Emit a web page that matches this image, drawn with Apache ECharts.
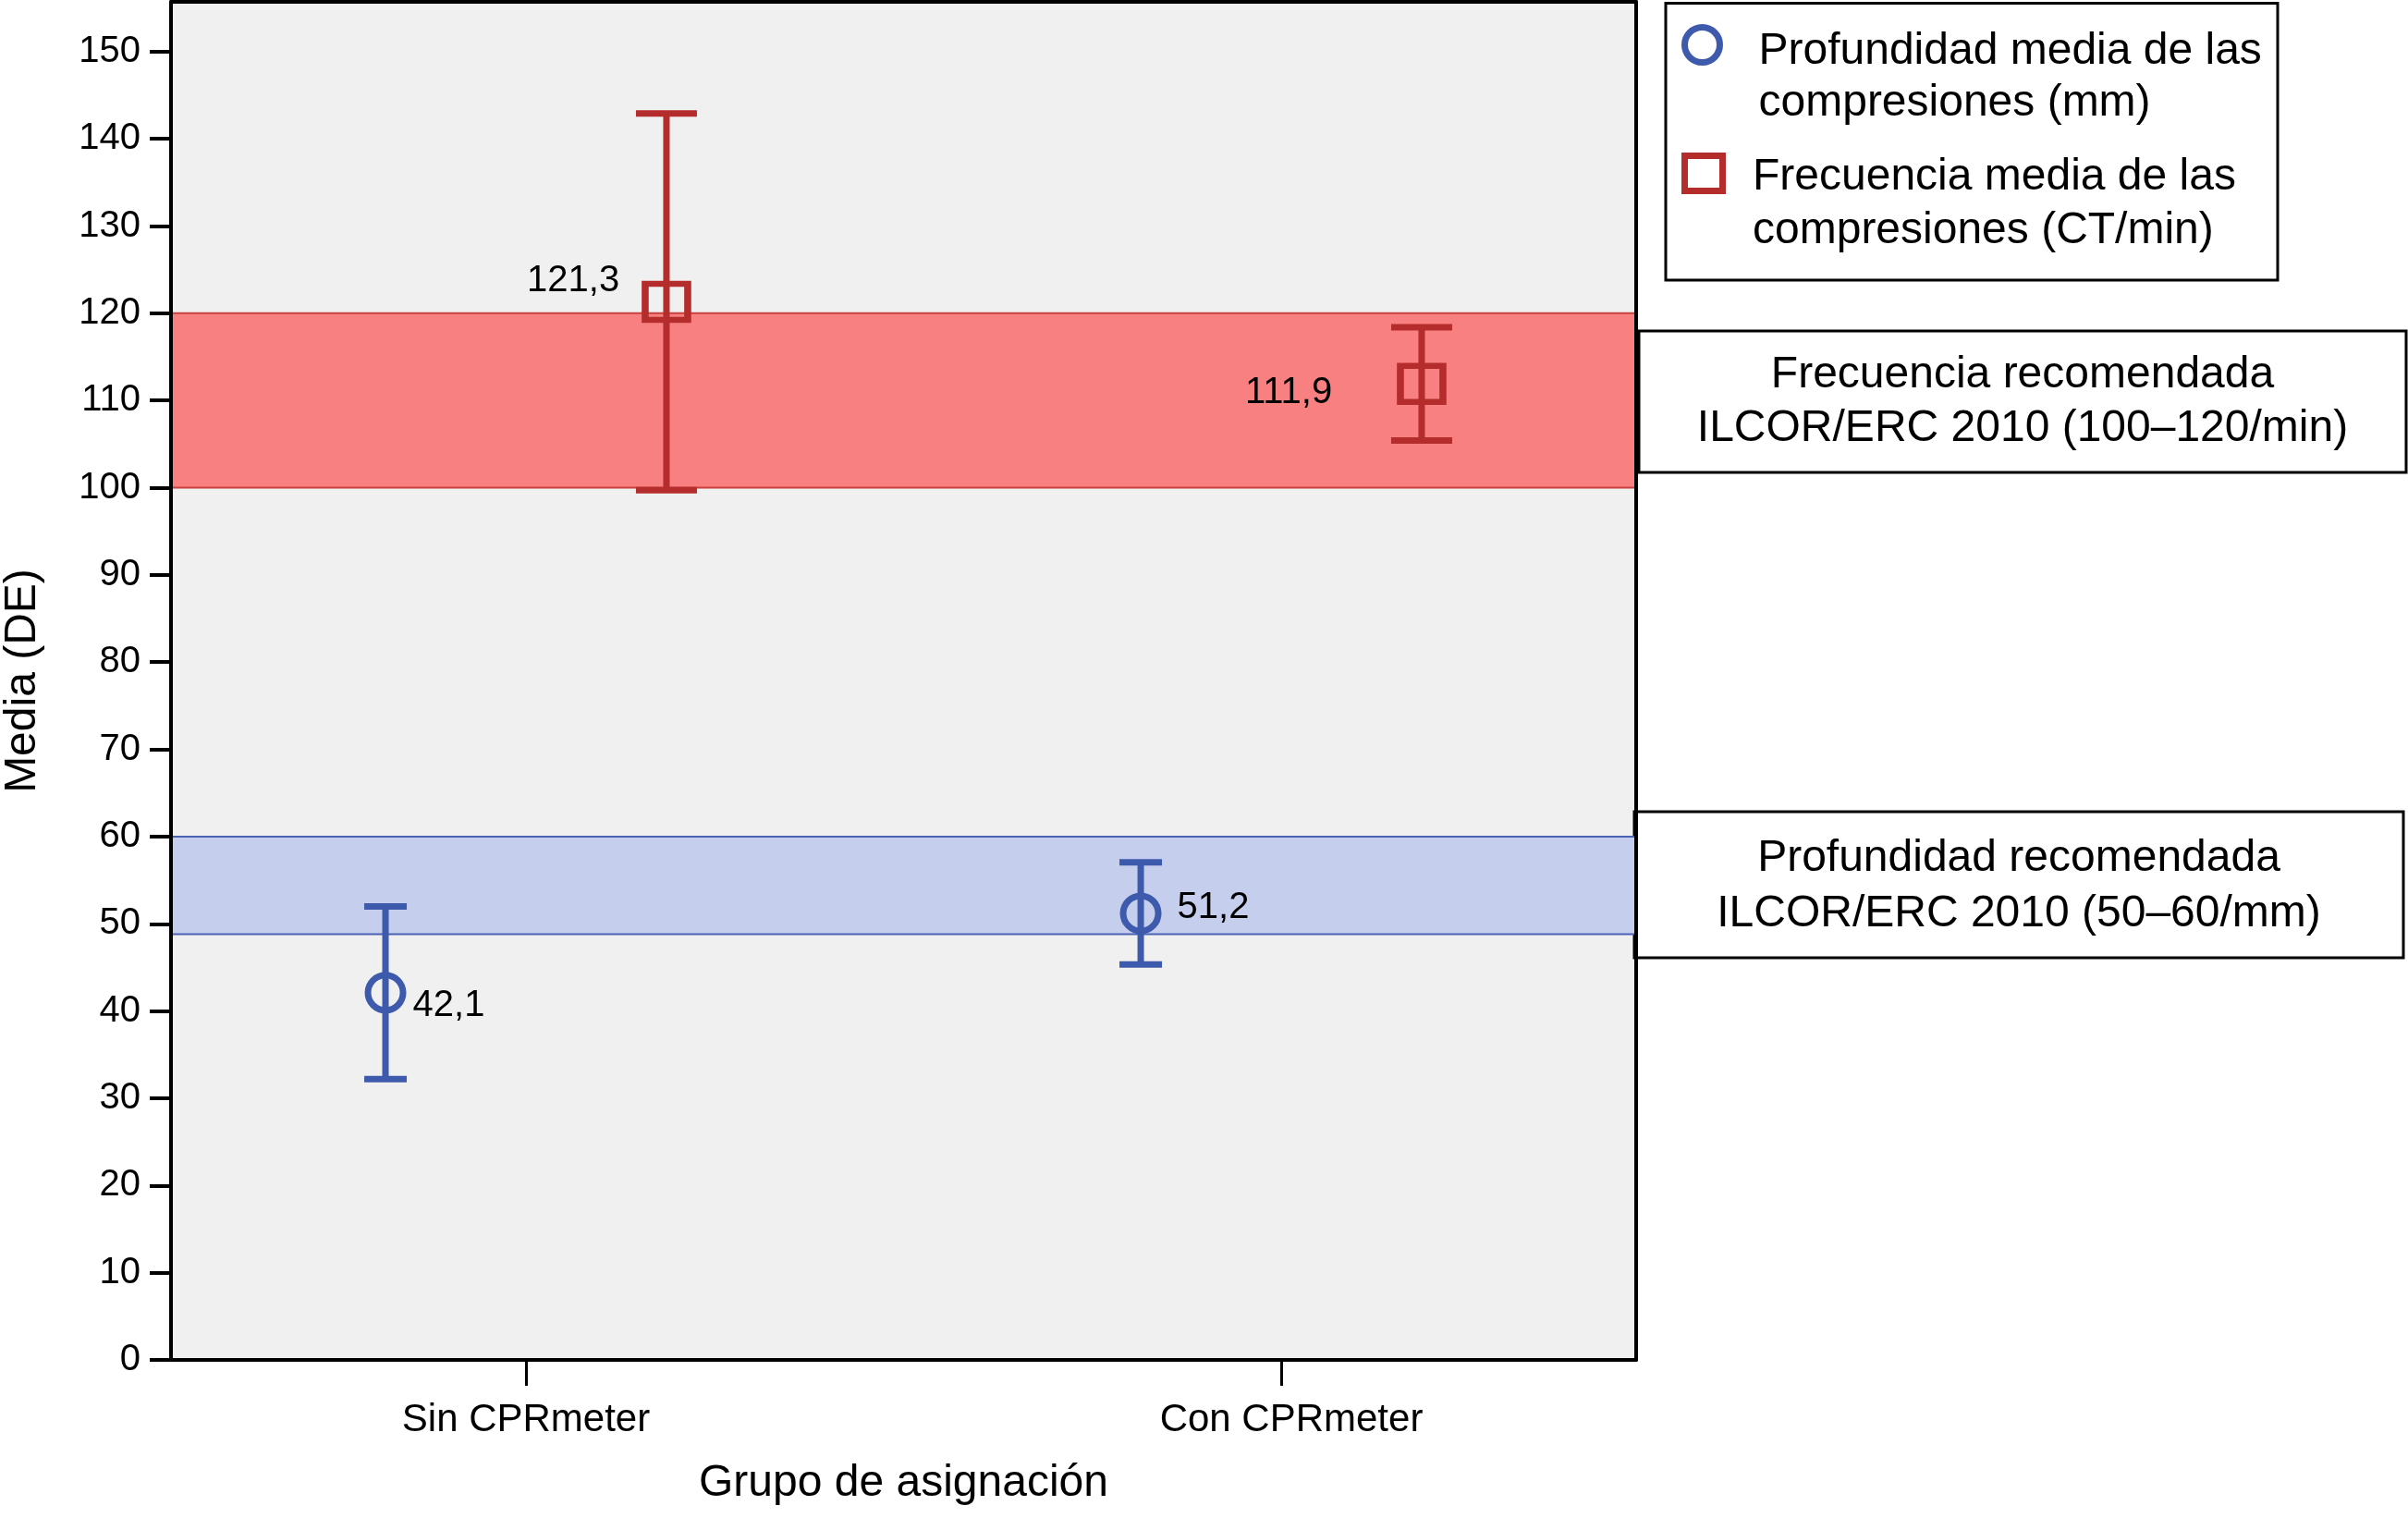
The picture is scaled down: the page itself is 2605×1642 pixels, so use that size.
<!DOCTYPE html>
<html>
<head>
<meta charset="utf-8">
<script src="https://cdn.jsdelivr.net/npm/echarts@6/dist/echarts.min.js"></script>
<style>
html,body{margin:0;padding:0;background:#fff;}
#chart{width:2605px;height:1642px;}
</style>
</head>
<body>
<div id="chart"></div>
<script>
// ---------- data ----------
const CATEGORIES = ['Sin CPRmeter', 'Con CPRmeter'];
const DEPTH_MEAN = [42.1, 51.2];
const DEPTH_SD = [9.9, 5.85];
const FREQ_MEAN = [121.3, 111.9];
const FREQ_SD = [21.6, 6.5];
const DEPTH_BAND = [48.8, 60];
const FREQ_BAND = [100, 120];
const Y_TICKS = [0, 10, 20, 30, 40, 50, 60, 70, 80, 90, 100, 110, 120, 130, 140, 150];
const SERIES_NAMES = ['Profundidad media de las compresiones (mm)', 'Frecuencia media de las compresiones (CT/min)'];
const BOX_TEXTS = ['Frecuencia recomendada\nILCOR/ERC 2010 (100\u2013120/min)', 'Profundidad recomendada\nILCOR/ERC 2010 (50\u201360/mm)'];
const X_TITLE = 'Grupo de asignación';
const Y_TITLE = 'Media (DE)';

// ---------- styling ----------
const FONT = '"Liberation Sans", Arial, Helvetica, sans-serif';
const BLUE = '#3D5AAC';
const RED = '#B52C2C';
const DODGE = 0.186;
const X_MIN = -0.47, X_MAX = 1.47;
const Y_MAX = 155.7;
const X_LABEL_STYLE = ['a', 'b'];

// per-point label placement (style only)
const DEPTH_LABEL_LAYOUT = [
  { position: 'right', distance: 7, offset: [0, 14] },
  { position: 'right', distance: 17, offset: [0, -6] }
];
const FREQ_LABEL_LAYOUT = [
  { position: 'left', distance: 24, offset: [0, -23] },
  { position: 'left', distance: 70, offset: [0, 10] }
];

const fmt = v => v.toFixed(1).replace('.', ',');

function errorBars(name, means, sds, dodge, color, capHalf) {
  return {
    type: 'custom',
    name: name + ' DE',
    z: 3,
    clip: false,
    silent: true,
    encode: { x: 0, y: [1, 2] },
    data: means.map((m, i) => [i + dodge, m - sds[i], m + sds[i]]),
    renderItem: function (params, api) {
      const x = api.value(0);
      const top = api.coord([x, api.value(2)]);
      const bot = api.coord([x, api.value(1)]);
      const st = { stroke: color, lineWidth: 7, lineCap: 'butt' };
      return {
        type: 'group',
        children: [
          { type: 'line', shape: { x1: top[0], y1: top[1], x2: bot[0], y2: bot[1] }, style: st },
          { type: 'line', shape: { x1: top[0] - capHalf, y1: top[1], x2: top[0] + capHalf, y2: top[1] }, style: st },
          { type: 'line', shape: { x1: bot[0] - capHalf, y1: bot[1], x2: bot[0] + capHalf, y2: bot[1] }, style: st }
        ]
      };
    }
  };
}

function band(range, fill, border) {
  return {
    silent: true,
    label: { show: false },
    emphasis: { disabled: true },
    itemStyle: { color: fill, borderColor: border, borderWidth: 2, opacity: 1 },
    data: [[{ yAxis: range[0] }, { yAxis: range[1] }]]
  };
}

// legend text: blank spacer line + two text lines, so the icon sits beside the first line
const legendText = n => '{s| }\n' + n.replace(' compresiones', '\ncompresiones').split('\n').map(l => '{t|' + l + '}').join('\n');

const chart = echarts.init(document.getElementById('chart'), null, { renderer: 'canvas' });

const option = {
  animation: false,
  backgroundColor: '#ffffff',
  textStyle: { fontFamily: FONT, color: '#000' },
  grid: {
    left: 185, right: 835, top: 2, bottom: 171,
    show: true, backgroundColor: '#F0F0F0', borderWidth: 0,
    outerBoundsMode: 'none'
  },
  xAxis: [
    {
      type: 'value', min: X_MIN, max: X_MAX, z: 10,
      name: X_TITLE, nameLocation: 'middle', nameGap: 110,
      nameTextStyle: { fontSize: 48, color: '#000', fontFamily: FONT },
      axisLine: { show: true, onZero: false, lineStyle: { color: '#000', width: 4 } },
      axisTick: { show: true, customValues: CATEGORIES.map((c, i) => i), length: 28, lineStyle: { color: '#000', width: 3 } },
      axisLabel: {
        show: true, customValues: CATEGORIES.map((c, i) => i),
        formatter: v => '{' + X_LABEL_STYLE[Math.round(v)] + '|' + CATEGORIES[Math.round(v)] + '}',
        fontSize: 42, margin: 44, color: '#000', fontFamily: FONT,
        rich: {
          a: { fontSize: 42, color: '#000', fontFamily: FONT },
          b: { fontSize: 42, color: '#000', fontFamily: FONT, padding: [0, 0, 0, 22] }
        }
      },
      splitLine: { show: false }
    },
    {
      type: 'value', min: X_MIN, max: X_MAX, position: 'top', z: 10,
      axisLine: { show: true, onZero: false, lineStyle: { color: '#000', width: 4 } },
      axisTick: { show: false }, axisLabel: { show: false }, splitLine: { show: false }
    }
  ],
  yAxis: [
    {
      type: 'value', min: 0, max: Y_MAX, z: 10,
      name: Y_TITLE, nameLocation: 'middle', nameGap: 136,
      nameTextStyle: { fontSize: 48, color: '#000', fontFamily: FONT },
      axisLine: { show: true, onZero: false, lineStyle: { color: '#000', width: 4 } },
      axisTick: { show: true, customValues: Y_TICKS, length: 23, lineStyle: { color: '#000', width: 4 } },
      axisLabel: { show: true, customValues: Y_TICKS, fontSize: 40, margin: 33, color: '#000', fontFamily: FONT },
      splitLine: { show: false }
    },
    {
      type: 'value', min: 0, max: Y_MAX, position: 'right', z: 10,
      axisLine: { show: true, onZero: false, lineStyle: { color: '#000', width: 4 } },
      axisTick: { show: false }, axisLabel: { show: false }, splitLine: { show: false }
    }
  ],
  legend: [
    {
      data: [{ name: SERIES_NAMES[0], icon: 'circle', itemStyle: { color: 'rgba(0,0,0,0)', borderColor: BLUE, borderWidth: 7 } }],
      orient: 'vertical', align: 'left', left: 1819, top: -42.5, padding: 0,
      itemWidth: 112, itemHeight: 38, selectedMode: false, z: 6,
      formatter: legendText,
      textStyle: {
        color: '#000', fontFamily: FONT, fontSize: 48, backgroundColor: 'rgba(0,0,0,0)',
        rich: { s: { fontSize: 10, lineHeight: 70 }, t: { fontSize: 48, lineHeight: 56, color: '#000', fontFamily: FONT } }
      }
    },
    {
      data: [{ name: SERIES_NAMES[1], icon: 'path://M0,0H41V38H0Z', itemStyle: { color: 'rgba(0,0,0,0)', borderColor: RED, borderWidth: 7 } }],
      orient: 'vertical', align: 'left', left: 1819, top: 96, padding: 0,
      itemWidth: 96, itemHeight: 38, selectedMode: false, z: 6,
      formatter: legendText,
      textStyle: {
        color: '#000', fontFamily: FONT, fontSize: 48, backgroundColor: 'rgba(0,0,0,0)',
        rich: { s: { fontSize: 10, lineHeight: 67 }, t: { fontSize: 48, lineHeight: 58, color: '#000', fontFamily: FONT } }
      }
    }
  ],
  series: [
    errorBars(SERIES_NAMES[0], DEPTH_MEAN, DEPTH_SD, -DODGE, BLUE, 23),
    errorBars(SERIES_NAMES[1], FREQ_MEAN, FREQ_SD, DODGE, RED, 33),
    {
      type: 'scatter', name: SERIES_NAMES[0], z: 4,
      symbol: 'circle', symbolSize: 38,
      itemStyle: { color: 'rgba(0,0,0,0)', borderColor: BLUE, borderWidth: 7, opacity: 1 },
      emphasis: { disabled: true },
      label: { show: true, formatter: p => fmt(p.value[1]), fontSize: 40, color: '#000', fontFamily: FONT },
      data: DEPTH_MEAN.map((m, i) => ({ value: [i - DODGE, m], label: DEPTH_LABEL_LAYOUT[i] })),
      markArea: band(DEPTH_BAND, '#C5CEEC', '#4A62B4')
    },
    {
      type: 'scatter', name: SERIES_NAMES[1], z: 4,
      symbol: 'rect', symbolSize: [46, 39],
      itemStyle: { color: 'rgba(0,0,0,0)', borderColor: RED, borderWidth: 7, opacity: 1 },
      emphasis: { disabled: true },
      label: { show: true, formatter: p => fmt(p.value[1]), fontSize: 40, color: '#000', fontFamily: FONT },
      data: FREQ_MEAN.map((m, i) => ({ value: [i + DODGE, m], label: FREQ_LABEL_LAYOUT[i] })),
      markArea: band(FREQ_BAND, '#F88080', '#C8403F')
    }
  ],
  graphic: [
    { type: 'rect', z: 0, shape: { x: 1802, y: 3.5, width: 662, height: 299.5 }, style: { fill: '#fff', stroke: '#000', lineWidth: 3 } },
    { type: 'rect', z: 0, shape: { x: 1773, y: 358, width: 830, height: 153 }, style: { fill: '#fff', stroke: '#000', lineWidth: 3 } },
    { type: 'rect', z: 0, shape: { x: 1768, y: 878, width: 832, height: 158 }, style: { fill: '#fff', stroke: '#000', lineWidth: 3 } },
    { type: 'text', z: 1, x: 2188, y: 435, style: { text: BOX_TEXTS[0], fontSize: 48, fontFamily: FONT, lineHeight: 58, align: 'center', verticalAlign: 'middle', textAlign: 'center', textVerticalAlign: 'middle', fill: '#000' } },
    { type: 'text', z: 1, x: 2184, y: 959, style: { text: BOX_TEXTS[1], fontSize: 48, fontFamily: FONT, lineHeight: 59.5, align: 'center', verticalAlign: 'middle', textAlign: 'center', textVerticalAlign: 'middle', fill: '#000' } }
  ]
};

chart.setOption(option);
</script>
</body>
</html>
